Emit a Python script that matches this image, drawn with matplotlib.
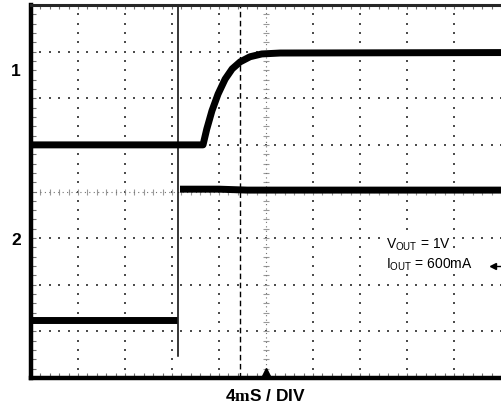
import numpy as np
import matplotlib.pyplot as plt

plt.rcParams['font.family'] = ['Liberation Sans', 'DejaVu Sans']
plt.rcParams['mathtext.fontset'] = 'custom'
plt.rcParams['mathtext.rm'] = 'Liberation Sans'
plt.rcParams['mathtext.bf'] = 'Liberation Serif:bold'

# scope screen: 10 x 8 divisions
n_xdiv = 10
n_ydiv = 8

# channel 1 (output voltage) in divisions
ch1_x = [0, 3.66, 3.74, 3.85, 3.98, 4.13, 4.28, 4.45, 4.66, 4.91, 5.3, 10]
ch1_y = [5.0, 5.0, 5.34, 5.73, 6.09, 6.41, 6.63, 6.78, 6.89, 6.95, 6.97, 6.98]

# channel 2 (enable step)
ch2_low_x = [0, 3.11]
ch2_low_y = [1.24, 1.24]
ch2_high_x = [3.17, 4.0, 4.6, 10]
ch2_high_y = [4.05, 4.05, 4.03, 4.03]

trig_x = 3.13       # trigger edge line
trig_y0 = 0.47
cursor_x = 4.45     # dashed time cursor

fig = plt.figure(figsize=(5.01, 4.08), dpi=100)
ax = fig.add_axes([31 / 501, 30 / 408, 470 / 501, 373 / 408])
ax.set_xlim(0, n_xdiv)
ax.set_ylim(0, n_ydiv)
ax.set_xticks([])
ax.set_yticks([])

dot_c = '0.3'
# 格子 (dotted graticule)
sub = np.arange(0, n_ydiv + 0.01, 0.2)
for gx in range(1, n_xdiv):
    if gx == 5:
        continue
    ax.scatter(np.full(len(sub), gx), sub, s=0.9, c=dot_c, marker='s', lw=0)
sub = np.arange(0, n_xdiv + 0.01, 0.2)
for gy in range(1, n_ydiv):
    if gy == 4:
        continue
    ax.scatter(sub, np.full(len(sub), gy), s=0.9, c=dot_c, marker='s', lw=0)

# center crosshair with sub-division ticks
ys = np.arange(0, n_ydiv + 0.01, 0.2)
ax.plot([5, 5], [0, n_ydiv], ls=(0, (1, 3)), color='0.45', lw=0.8)
ax.scatter(np.full(len(ys), 5), ys, marker='_', s=18, c='0.6', lw=0.8)
xs = np.arange(0, n_xdiv + 0.01, 0.2)
ax.plot([0, n_xdiv], [4, 4], ls=(0, (1, 3)), color='0.45', lw=0.8)
ax.scatter(xs, np.full(len(xs), 4), marker='|', s=18, c='0.6', lw=0.8)

# border ticks
ax.scatter(np.full(len(ys), 0.06), ys, marker='_', s=10, c='0.45', lw=0.8)
ax.scatter(xs, np.full(len(xs), n_ydiv - 0.05), marker='|', s=10, c='0.45', lw=0.8)
ax.scatter(xs, np.full(len(xs), 0.07), marker='|', s=10, c='0.45', lw=0.8)

# traces
ax.plot(ch1_x, ch1_y, color='black', lw=5.0, solid_capstyle='butt')
ax.plot(ch2_low_x, ch2_low_y, color='black', lw=5.0, solid_capstyle='butt')
ax.plot(ch2_high_x, ch2_high_y, color='black', lw=5.0, solid_capstyle='butt')
ax.plot([trig_x, trig_x], [trig_y0, n_ydiv], color='black', lw=1.1)
ax.plot([cursor_x, cursor_x], [0, n_ydiv], color='black', lw=1.0, ls=(0, (4, 2.5)))

# trigger position marker
ax.plot([5], [0.12], marker='^', ms=6, color='black', clip_on=False)
# channel 2 ground marker at right
ax.plot([9.83], [2.4], marker='<', ms=4, color='black')
ax.plot([9.83, 9.98], [2.4, 2.4], color='black', lw=1)

for side in ['left', 'bottom']:
    ax.spines[side].set_linewidth(3.2)
ax.spines['top'].set_linewidth(2.2)
ax.spines['top'].set_color('0.15')
ax.spines['right'].set_visible(False)

ax.text(-0.22, 6.58, '1', ha='right', va='center', fontsize=12.5, fontweight='bold')
ax.text(-0.22, 2.94, '2', ha='right', va='center', fontsize=12.5, fontweight='bold')
ax.text(5, -0.22, r'4$\mathbf{m}$S / DIV', ha='center', va='top', fontsize=12.5, fontweight='bold')

box = dict(facecolor='white', edgecolor='none', pad=0.5)
ax.text(7.55, 2.85, r'V$_{\mathrm{OUT}}$ = 1V', fontsize=10, va='center', bbox=box, zorder=5)
ax.text(7.55, 2.42, r'I$_{\mathrm{OUT}}$ = 600mA', fontsize=10, va='center', bbox=box, zorder=5)

fig.savefig('out.png', dpi=100)
